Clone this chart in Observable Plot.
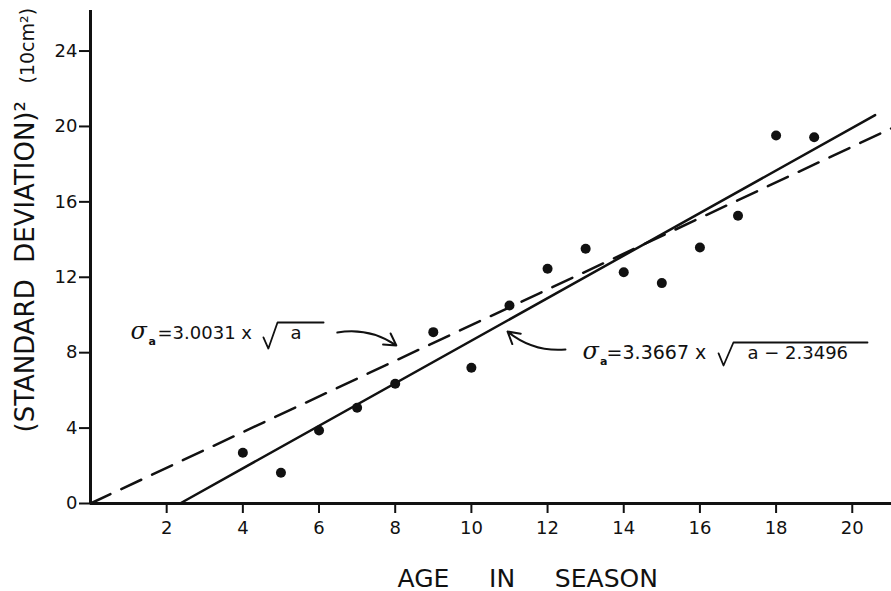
<!DOCTYPE html>
<html>
<head>
<meta charset="utf-8">
<script src="https://cdn.jsdelivr.net/npm/d3@7"></script>
<script src="https://cdn.jsdelivr.net/npm/@observablehq/plot@0.6"></script>
<style>
  html, body { margin: 0; padding: 0; background: white; }
  svg text { fill: #111; }
</style>
</head>
<body>
<div id="chart"></div>
<script>
// Observed data: age in season vs (standard deviation)^2 in units of 10 cm^2
const ages = [4, 5, 6, 7, 8, 9, 10, 11, 12, 13, 14, 15, 16, 17, 18, 19];
const variance = [2.69, 1.63, 3.87, 5.08, 6.35, 9.09, 7.2, 10.5, 12.45, 13.51, 12.27, 11.69, 13.58, 15.26, 19.52, 19.43];

// Fitted lines (end points)
const dashedAge = [0, 21.03];
const dashedVar = [0, 19.9];
const solidAge = [2.35, 20.6];
const solidVar = [0, 20.6];

// Radical signs of the two equations (data units)
const radical1Age = [4.54, 4.67, 4.91, 6.12];
const radical1Var = [8.81, 8.22, 9.6, 9.6];
const radical2Age = [16.49, 16.62, 16.88, 20.4];
const radical2Var = [7.96, 7.32, 8.54, 8.54];

// Tick values
const xTicks = [2, 4, 6, 8, 10, 12, 14, 16, 18, 20];
const yTicks = [0, 4, 8, 12, 16, 20, 24];

// Texts
const xLabel = "AGE\u00a0\u00a0\u00a0\u00a0\u00a0IN\u00a0\u00a0\u00a0\u00a0\u00a0SEASON";
const yLabelMain = "(STANDARD\u00a0\u00a0DEVIATION)\u00b2";
const yLabelUnit = "(10cm\u00b2)";
const eq1Coef = "=3.0031 x";
const eq2Coef = "=3.3667 x";
const eq1Arg = "a";
const eq2Arg = "a \u2212 2.3496";

const dots = ages.map((a, i) => ({a, v: variance[i]}));
const dashed = dashedAge.map((a, i) => ({a, v: dashedVar[i]}));
const solid = solidAge.map((a, i) => ({a, v: solidVar[i]}));
const radical1 = radical1Age.map((a, i) => ({a, v: radical1Var[i]}));
const radical2 = radical2Age.map((a, i) => ({a, v: radical2Var[i]}));

const eqFont = {fontFamily: "DejaVu Sans", fontSize: 18, textAnchor: "start", lineAnchor: "bottom"};
const sigma = {fontFamily: "DejaVu Serif", fontStyle: "italic", fontSize: 24, textAnchor: "start", lineAnchor: "bottom"};
const sub = {fontFamily: "DejaVu Sans", fontWeight: "bold", fontSize: 11, textAnchor: "start", lineAnchor: "bottom"};

const chart = Plot.plot({
  width: 891,
  height: 591,
  marginLeft: 90,
  marginRight: 0,
  marginTop: 10,
  marginBottom: 88,
  x: {domain: [0, 21.03]},
  y: {domain: [0, 26.15]},
  style: {fontFamily: "DejaVu Sans", background: "white", color: "#111", overflow: "visible"},
  marks: [
    Plot.axisX({ticks: xTicks, tickSize: 10, tickPadding: 8, fontSize: 18, strokeWidth: 2, label: null}),
    Plot.axisY({ticks: yTicks, tickSize: 11, tickPadding: 2, fontSize: 18, strokeWidth: 2, label: null}),
    Plot.ruleX([0], {strokeWidth: 3}),
    Plot.ruleY([0], {strokeWidth: 3}),
    Plot.line(dashed, {x: "a", y: "v", strokeWidth: 2.5, strokeDasharray: "22,12"}),
    Plot.line(solid, {x: "a", y: "v", strokeWidth: 2.5}),
    Plot.dot(dots, {x: "a", y: "v", r: 5, fill: "#111", stroke: "none"}),

    // axis titles
    Plot.text([xLabel], {frameAnchor: "bottom-left", dx: 307, dy: 83, textAnchor: "start", lineAnchor: "bottom", fontSize: 25}),
    Plot.text([yLabelMain], {frameAnchor: "bottom-left", dx: -57, dy: -71, rotate: -90, textAnchor: "start", lineAnchor: "bottom", fontSize: 26}),
    Plot.text([yLabelUnit], {frameAnchor: "bottom-left", dx: -57, dy: -420, rotate: -90, textAnchor: "start", lineAnchor: "bottom", fontSize: 19}),

    // equation 1 (dashed)
    Plot.text(["\u03c3"], {x: 1.05, y: 8.75, ...sigma}),
    Plot.text(["a"], {x: 1.52, y: 8.43, ...sub}),
    Plot.text([eq1Coef], {x: 1.76, y: 8.75, ...eqFont}),
    Plot.line(radical1, {x: "a", y: "v", strokeWidth: 1.8}),
    Plot.text([eq1Arg], {x: 5.25, y: 8.75, ...eqFont}),
    Plot.arrow([0], {x1: 6.48, y1: 9.07, x2: 8.03, y2: 8.38, bend: 22, strokeWidth: 2, headLength: 10}),

    // equation 2 (solid)
    Plot.text(["\u03c3"], {x: 12.92, y: 7.69, ...sigma}),
    Plot.text(["a"], {x: 13.38, y: 7.37, ...sub}),
    Plot.text([eq2Coef], {x: 13.55, y: 7.69, ...eqFont, fontSize: 19}),
    Plot.line(radical2, {x: "a", y: "v", strokeWidth: 1.8}),
    Plot.text([eq2Arg], {x: 17.25, y: 7.69, ...eqFont}),
    Plot.arrow([0], {x1: 12.47, y1: 8.17, x2: 10.95, y2: 9.12, bend: 22, strokeWidth: 2, headLength: 10})
  ]
});
document.getElementById("chart").appendChild(chart);
</script>
</body>
</html>
